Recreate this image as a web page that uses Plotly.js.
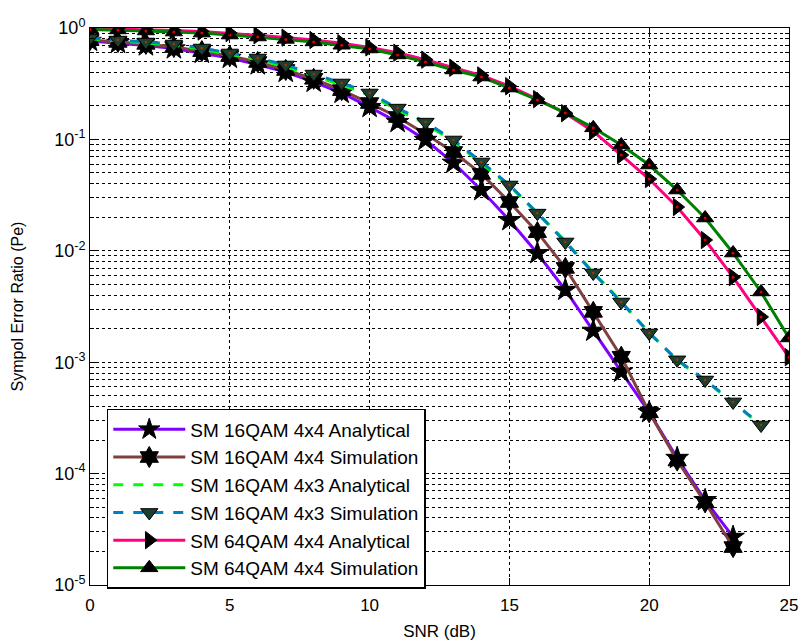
<!DOCTYPE html>
<html>
<head>
<meta charset="utf-8">
<script src="https://cdn.plot.ly/plotly-3.0.1.min.js"></script>
<style>html,body{margin:0;padding:0;background:#fff;}#chart{width:803px;height:642px;}</style>
</head>
<body>
<div id="chart"></div>
<script>
// SNR (dB) axes
const snr23 = [0,1,2,3,4,5,6,7,8,9,10,11,12,13,14,15,16,17,18,19,20,21,22,23];
const snr24 = [0,1,2,3,4,5,6,7,8,9,10,11,12,13,14,15,16,17,18,19,20,21,22,23,24];
const snr25 = [0,1,2,3,4,5,6,7,8,9,10,11,12,13,14,15,16,17,18,19,20,21,22,23,24,25];

// Symbol error ratio values
const qam16_4x4_analytical = [0.764,0.733,0.696,0.654,0.597,0.538,0.47,0.403,0.328,0.261,0.195,0.143,0.0988,0.0616,0.035,0.0188,0.0095,0.00445,0.00191,0.00082,0.000355,0.000138,0.0000577,0.000027];
const qam16_4x4_simulation = [0.78,0.75,0.72,0.675,0.62,0.56,0.495,0.42,0.35,0.277,0.212,0.159,0.112,0.0771,0.049,0.0274,0.0147,0.00702,0.00283,0.00112,0.000355,0.000131,0.0000552,0.0000219];
const qam16_4x3_analytical = [0.80,0.77,0.735,0.70,0.645,0.58,0.52,0.45,0.372,0.308,0.25,0.184,0.138,0.096,0.061,0.0385,0.0219,0.0122,0.0064,0.0035,0.00184,0.00104,0.000685,0.000435,0.000272];
const qam16_4x3_simulation = [0.813,0.78,0.749,0.718,0.661,0.597,0.538,0.466,0.386,0.321,0.261,0.191,0.143,0.0988,0.0627,0.039,0.0218,0.012,0.00632,0.00347,0.00183,0.00105,0.000692,0.00044,0.000273];
const qam64_4x4_analytical = [0.99,0.98,0.97,0.95,0.93,0.90,0.86,0.82,0.78,0.73,0.67,0.60,0.52,0.44,0.375,0.30,0.23,0.172,0.118,0.0724,0.0441,0.0247,0.0125,0.0058,0.00255,0.00111];
const qam64_4x4_simulation = [0.97,0.96,0.94,0.92,0.90,0.865,0.83,0.79,0.75,0.70,0.648,0.573,0.495,0.42,0.363,0.289,0.226,0.173,0.127,0.0891,0.0589,0.0351,0.0197,0.00955,0.00427,0.00165];

const names = ['SM 16QAM 4x4 Analytical','SM 16QAM 4x4 Simulation','SM 16QAM 4x3 Analytical','SM 16QAM 4x3 Simulation','SM 64QAM 4x4 Analytical','SM 64QAM 4x4 Simulation'];
const yTickVals = [1,0.1,0.01,0.001,0.0001,0.00001];
const yTickText = ['10<sup>0</sup>','10<sup>-1</sup>','10<sup>-2</sup>','10<sup>-3</sup>','10<sup>-4</sup>','10<sup>-5</sup>'];
const xTickVals = [0,5,10,15,20,25];

const traces = [
  {x: snr23, y: qam16_4x4_analytical, name: names[0], mode: 'lines+markers',
   line: {color: '#8000ff', width: 3},
   marker: {symbol: 'star', size: 17, color: '#000', line: {color: '#000', width: 1}}},
  {x: snr23, y: qam16_4x4_simulation, name: names[1], mode: 'lines+markers',
   line: {color: '#7f4040', width: 3},
   marker: {symbol: 'hexagram', size: 16, color: '#000', line: {color: '#000', width: 1}}},
  {x: snr24, y: qam16_4x3_analytical, name: names[2], mode: 'lines',
   line: {color: '#00ff00', width: 3, dash: '10px,10px'}},
  {x: snr24, y: qam16_4x3_simulation, name: names[3], mode: 'lines+markers',
   line: {color: '#0080c0', width: 3, dash: '10px,10px'},
   marker: {symbol: 'triangle-down', size: 15, color: '#1d3f2f', line: {color: '#000', width: 1}}},
  {x: snr24, y: qam16_4x3_simulation, mode: 'markers', showlegend: false, hoverinfo: 'skip',
   marker: {symbol: 'circle', size: 2.5, color: '#b03000'}},
  {x: snr25, y: qam64_4x4_analytical, name: names[4], mode: 'lines+markers',
   line: {color: '#ff0080', width: 3},
   marker: {symbol: 'triangle-right', size: 15, color: '#000', line: {color: '#000', width: 1}}},
  {x: snr25, y: qam64_4x4_analytical, mode: 'markers', showlegend: false, hoverinfo: 'skip',
   marker: {symbol: 'circle', size: 3, color: '#e00000'}},
  {x: snr25, y: qam64_4x4_simulation, name: names[5], mode: 'lines+markers',
   line: {color: '#008000', width: 3},
   marker: {symbol: 'triangle-up', size: 15, color: '#000', line: {color: '#000', width: 1}}},
  {x: snr25, y: qam64_4x4_simulation, mode: 'markers', showlegend: false, hoverinfo: 'skip',
   marker: {symbol: 'circle', size: 3, color: '#e00000'}}
];

const font = {family: 'Liberation Sans, Arial, sans-serif', color: '#000'};

const layout = {
  width: 803, height: 642,
  margin: {l: 90, r: 14, t: 28, b: 57},
  paper_bgcolor: '#fff', plot_bgcolor: '#fff',
  font: Object.assign({size: 17}, font),
  showlegend: true,
  legend: {
    x: 0.024, y: 0.316, xanchor: 'left', yanchor: 'top',
    bgcolor: '#fff', bordercolor: '#000', borderwidth: 1.5,
    font: Object.assign({size: 19}, font),
    itemwidth: 72, tracegroupgap: 0
  },
  xaxis: {
    range: [0, 25], tickmode: 'array', tickvals: xTickVals,
    ticks: 'inside', ticklen: 7, tickcolor: '#000',
    showline: true, linecolor: '#000', linewidth: 1, mirror: 'ticks',
    showgrid: true, gridcolor: '#000', gridwidth: 1, griddash: 'dot',
    zeroline: false, ticklabelstandoff: 5,
    tickfont: Object.assign({size: 17}, font),
    title: {text: 'SNR (dB)', font: Object.assign({size: 17}, font), standoff: 10}
  },
  yaxis: {
    type: 'log', range: [-5, 0],
    tickmode: 'array', tickvals: yTickVals, ticktext: yTickText,
    ticks: 'inside', ticklen: 7, tickcolor: '#000',
    showline: true, linecolor: '#000', linewidth: 1, mirror: 'ticks',
    showgrid: true, gridcolor: '#000', gridwidth: 1, griddash: 'dot',
    zeroline: false,
    tickfont: Object.assign({size: 18}, font),
    minor: {dtick: 'D1', ticks: 'inside', ticklen: 4, tickcolor: '#000',
            showgrid: true, gridcolor: '#000', gridwidth: 1, griddash: 'dot'},
    title: {text: 'Sympol Error Ratio (Pe)', font: Object.assign({size: 16}, font), standoff: 26}
  }
};

Plotly.newPlot('chart', traces, layout, {displayModeBar: false, staticPlot: true});
</script>
</body>
</html>
